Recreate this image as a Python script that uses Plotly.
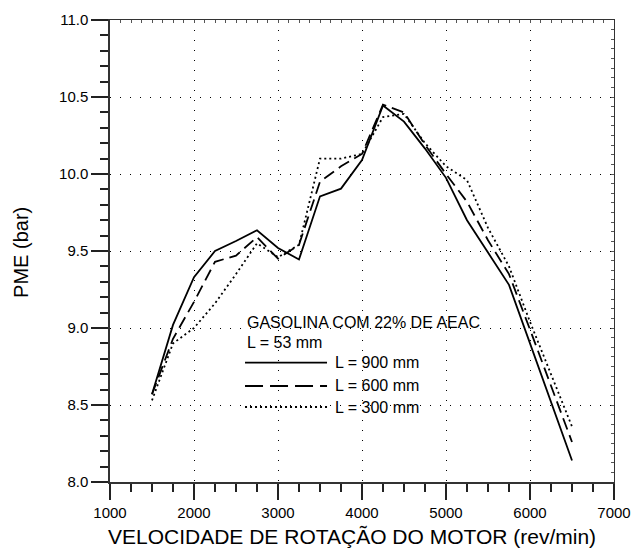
import plotly.graph_objects as go

rpm = [1500, 1750, 2000, 2250, 2500, 2750, 3000, 3250, 3500, 3750, 4000,
       4250, 4500, 4750, 5000, 5250, 5500, 5750, 6000, 6250, 6500]
pme_900 = [8.57, 9.02, 9.33, 9.50, 9.565, 9.635, 9.52, 9.445, 9.855, 9.905, 10.09,
           10.445, 10.34, 10.165, 9.975, 9.70, 9.49, 9.28, 8.90, 8.52, 8.14]
pme_600 = [8.57, 8.93, 9.17, 9.43, 9.47, 9.59, 9.45, 9.54, 9.95, 10.05, 10.13,
           10.45, 10.40, 10.19, 10.00, 9.82, 9.57, 9.35, 8.99, 8.62, 8.26]
pme_300 = [8.53, 8.90, 9.00, 9.16, 9.35, 9.55, 9.46, 9.54, 10.10, 10.10, 10.13,
           10.37, 10.39, 10.20, 10.05, 9.96, 9.65, 9.40, 9.04, 8.70, 8.36]

series_names = ["L = 900 mm", "L = 600 mm", "L = 300 mm"]
legend_title = ["GASOLINA COM 22% DE AEAC", "L = 53 mm"]
x_title = "VELOCIDADE DE ROTAÇÃO DO MOTOR (rev/min)"
y_title = "PME (bar)"

FONT = "Liberation Sans, Arial, Helvetica, sans-serif"
dashes = ["solid", "12px,6px", "2px,3px"]
legend_dashes = ["solid", "18px,7px", "2px,3px"]

fig = go.Figure()
for name, vals, d in zip(series_names, [pme_900, pme_600, pme_300], dashes):
    fig.add_trace(go.Scatter(x=rpm, y=vals, mode="lines", name=name,
                             line=dict(color="black", width=1.8, dash=d),
                             showlegend=False))

# helper trace for the top/right frame axes
fig.add_trace(go.Scatter(x=rpm, y=pme_900, mode="lines", xaxis="x2", yaxis="y2",
                         line=dict(width=0), opacity=0, hoverinfo="skip",
                         showlegend=False))

grid = dict(showgrid=True, gridcolor="black", gridwidth=1, griddash="1px,9px")

fig.update_layout(
    width=631, height=549, autosize=False,
    margin=dict(l=110, r=17, t=20, b=67, autoexpand=False),
    paper_bgcolor="white", plot_bgcolor="white",
    font=dict(family=FONT, color="black", size=15),
    xaxis=dict(range=[1000, 7000], tick0=1000, dtick=1000, automargin=False,
               ticks="outside", ticklen=16, tickwidth=1.5, tickcolor="#222",
               ticklabelstandoff=0,
               showline=True, linecolor="#333", linewidth=1.5,
               zeroline=False, tickfont=dict(size=15),
               minor=dict(tick0=1000, dtick=250, ticklen=8, tickwidth=1.5,
                          ticks="outside", tickcolor="#222", showgrid=False),
               **grid),
    yaxis=dict(range=[8, 11], tick0=8, dtick=0.5, tickformat=".1f", automargin=False,
               ticks="outside", ticklen=17, tickwidth=1.5, tickcolor="#222",
               showline=True, linecolor="#333", linewidth=1.5,
               zeroline=False, tickfont=dict(size=15),
               minor=dict(tick0=8, dtick=0.1, ticklen=8, tickwidth=1.5,
                          ticks="outside", tickcolor="#222", showgrid=False),
               **grid),
    xaxis2=dict(overlaying="x", side="top", matches="x", range=[1000, 7000],
                automargin=False,
                tick0=1000, dtick=125, ticks="inside", ticklen=3, tickcolor="#555",
                showticklabels=False, showgrid=False, zeroline=False,
                showline=True, linecolor="#333", linewidth=1.2),
    yaxis2=dict(overlaying="y", side="right", matches="y", range=[8, 11],
                automargin=False,
                tick0=8, dtick=0.0625, ticks="inside", ticklen=3, tickcolor="#555",
                showticklabels=False, showgrid=False, zeroline=False,
                showline=True, linecolor="#333", linewidth=1.2),
)

annotations = [
    dict(text=x_title, xref="paper", yref="paper", x=0.481, y=-0.119,
         xanchor="center", yanchor="middle", showarrow=False,
         font=dict(size=21)),
    dict(text=y_title, xref="paper", yref="paper", x=-0.1766, y=0.498,
         xanchor="center", yanchor="middle", showarrow=False, textangle=-90,
         font=dict(size=20)),
    dict(text=legend_title[0], xref="paper", yref="paper", x=0.2679, y=0.3442,
         xanchor="left", yanchor="middle", showarrow=False, font=dict(size=16)),
    dict(text=legend_title[1], xref="paper", yref="paper", x=0.2679, y=0.3009,
         xanchor="left", yanchor="middle", showarrow=False, font=dict(size=16)),
]
shapes = []
leg_y = [0.2582, 0.2078, 0.1623]
for name, d, yy in zip(series_names, legend_dashes, leg_y):
    shapes.append(dict(type="line", xref="paper", yref="paper",
                       x0=0.2679, x1=0.4306, y0=yy, y1=yy,
                       line=dict(color="black", width=1.8, dash=d)))
    annotations.append(dict(text=name, xref="paper", yref="paper", x=0.4425, y=yy,
                            xanchor="left", yanchor="middle", showarrow=False,
                            font=dict(size=16)))

fig.update_layout(annotations=annotations, shapes=shapes)
fig.write_html(
    "out.html",
    config={"responsive": False, "displayModeBar": False},
    post_script="document.body.style.margin='0px';document.body.style.padding='0px';"
                "document.documentElement.style.overflow='hidden';",
)
